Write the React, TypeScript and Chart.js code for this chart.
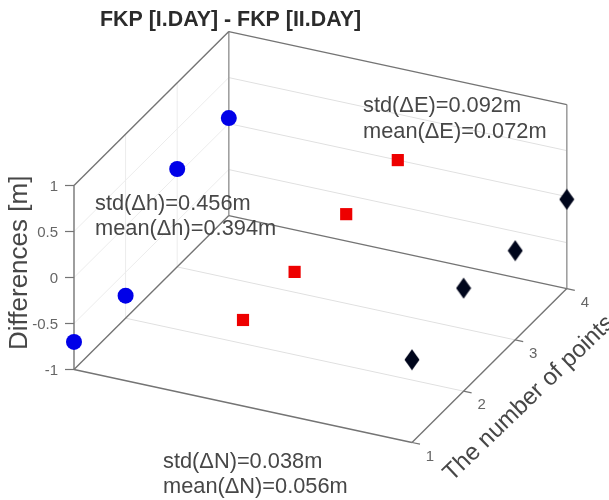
import React, { useEffect, useRef } from "react";
import { Chart, registerables } from "chart.js";

Chart.register(...registerables);

const titleText = "FKP [I.DAY] - FKP [II.DAY]";
const zLabel = "Differences [m]";
const yLabel = "The number of points";
const pointNumbers = [1, 2, 3, 4];
const zTicks = [-1, -0.5, 0, 0.5, 1];
const zTickLabels = ["-1", "-0.5", "0", "0.5", "1"];
const seriesH = [-0.7, -0.755, 0.064, 0.06];
const seriesE = [-0.065, -0.1, -0.03, 0.0];
const seriesN = [-0.1, 0.12, -0.03, -0.03];
const statsH = ["std(Δh)=0.456m", "mean(Δh)=0.394m"];
const statsE = ["std(ΔE)=0.092m", "mean(ΔE)=0.072m"];
const statsN = ["std(ΔN)=0.038m", "mean(ΔN)=0.056m"];

// 3D axes -> page pixels: x in 1..3, y in 1..4, z in -1..1
const ORIGIN = { x: 74, y: 369.5 };
const X_STEP = { x: 169, y: 36.5 };
const Y_STEP = { x: 51.6, y: -51.3 };
const Z_STEP = { x: 0, y: -92 };
const project = (x: number, y: number, z: number) => ({
  x: ORIGIN.x + (x - 1) * X_STEP.x + (y - 1) * Y_STEP.x + (z + 1) * Z_STEP.x,
  y: ORIGIN.y + (x - 1) * X_STEP.y + (y - 1) * Y_STEP.y + (z + 1) * Z_STEP.y,
});

const GRID = "#e0e0e0";
const GRID_LIGHT = "#ececec";
const EDGE = "#747474";
const EDGE_LIGHT = "#a0a0a0";
const TEXT = "#474747";
const TICK = "#666666";
const FONT = '"Liberation Sans", Arial, sans-serif';

const line = (pts: number[][], color: string, width: number) => ({
  type: "line" as const,
  data: pts.map(([x, y, z]) => project(x, y, z)),
  borderColor: color,
  borderWidth: width,
  pointRadius: 0,
  fill: false,
  tension: 0,
  showLine: true,
});

const diamond = () => {
  const c = document.createElement("canvas");
  c.width = 16;
  c.height = 22;
  const g = c.getContext("2d")!;
  g.fillStyle = "#00061c";
  g.beginPath();
  g.moveTo(8, 0.5);
  g.lineTo(15.5, 11);
  g.lineTo(8, 21.5);
  g.lineTo(0.5, 11);
  g.closePath();
  g.fill();
  return c;
};

const marks = (xPos: number, values: number[], extra: object) => ({
  type: "scatter" as const,
  data: values.map((v, i) => project(xPos, pointNumbers[i], v)),
  showLine: false,
  ...extra,
});

const textPlugin = {
  id: "labels3d",
  afterDatasetsDraw(chart: any) {
    const g = chart.ctx as CanvasRenderingContext2D;
    const sx = chart.scales.x;
    const sy = chart.scales.y;
    const put = (t: string, px: number, py: number, font: string, color: string, align: CanvasTextAlign = "left", rot = 0) => {
      g.save();
      g.translate(sx.getPixelForValue(px), sy.getPixelForValue(py));
      g.rotate(rot);
      g.font = font;
      g.fillStyle = color;
      g.textAlign = align;
      g.textBaseline = "alphabetic";
      g.fillText(t, 0, 0);
      g.restore();
    };
    put(titleText, 100, 26, `bold 21.4px ${FONT}`, "#2b2b2b");
    statsH.forEach((t, i) => put(t, 95, 210 + i * 25, `21.8px ${FONT}`, TEXT));
    statsE.forEach((t, i) => put(t, 363, 112 + i * 26, `21.8px ${FONT}`, TEXT));
    statsN.forEach((t, i) => put(t, 163, 468 + i * 25, `21.8px ${FONT}`, TEXT));
    zTicks.forEach((z, i) => {
      const p = project(1, 1, z);
      put(zTickLabels[i], p.x - 16, p.y + 5, `15px ${FONT}`, TICK, "right");
    });
    pointNumbers.forEach((n) => {
      const p = project(3, n, -1);
      put(String(n), p.x + 18, p.y + 18, `15px ${FONT}`, TICK, "center");
    });
    put(zLabel, 27, 350, `26px ${FONT}`, TEXT, "left", -Math.PI / 2);
    put(yLabel, 452, 482, `24px ${FONT}`, TEXT, "left", (-44 * Math.PI) / 180);
  },
};

export default function App() {
  const ref = useRef<HTMLCanvasElement>(null);
  useEffect(() => {
    const grids = [
      ...[-0.5, 0, 0.5].flatMap((z) => [
        line([[1, 1, z], [1, 4, z]], GRID_LIGHT, 1),
        line([[1, 4, z], [3, 4, z]], GRID, 1),
      ]),
      ...[2, 3].flatMap((y) => [
        line([[1, y, -1], [3, y, -1]], GRID, 1),
        line([[1, y, -1], [1, y, 1]], GRID_LIGHT, 1),
      ]),
    ];
    const edges = [
      line([[1, 1, -1], [3, 1, -1]], EDGE, 1.4),
      line([[3, 1, -1], [3, 4, -1]], EDGE, 1.4),
      line([[3, 4, -1], [1, 4, -1]], EDGE, 1.4),
      line([[1, 4, -1], [1, 1, -1]], EDGE, 1.4),
      line([[1, 1, -1], [1, 1, 1]], EDGE, 1.4),
      line([[1, 1, 1], [1, 4, 1]], EDGE, 1.4),
      line([[1, 4, 1], [3, 4, 1]], EDGE, 1.4),
      line([[1, 4, 1], [1, 4, -1]], EDGE_LIGHT, 1.6),
      line([[3, 4, 1], [3, 4, -1]], EDGE_LIGHT, 1.6),
    ];
    const ticks = [
      ...zTicks.map((z) => {
        const p = project(1, 1, z);
        return { type: "line" as const, data: [{ x: p.x - 9, y: p.y }, p], borderColor: EDGE, borderWidth: 1.2, pointRadius: 0 };
      }),
      ...pointNumbers.map((n) => {
        const p = project(3, n, -1);
        return { type: "line" as const, data: [p, { x: p.x + 8, y: p.y + 1.7 }], borderColor: EDGE, borderWidth: 1.2, pointRadius: 0 };
      }),
    ];
    const chart = new Chart(ref.current!, {
      type: "scatter",
      data: {
        datasets: [
          marks(1, seriesH, { pointStyle: "circle", pointRadius: 8, backgroundColor: "#0000e8", borderWidth: 0 }),
          marks(2, seriesE, { pointStyle: "rect", pointRadius: 8.6, backgroundColor: "#ee0000", borderWidth: 0 }),
          marks(3, seriesN, { pointStyle: diamond(), backgroundColor: "#00061c" }),
          ...ticks,
          ...edges,
          ...grids,
        ] as any,
      },
      options: {
        animation: false,
        responsive: false,
        layout: { padding: 0, autoPadding: false },
        scales: {
          x: { type: "linear", min: 0, max: 609, display: false },
          y: { type: "linear", min: 0, max: 500, reverse: true, display: false },
        },
        plugins: { legend: { display: false }, tooltip: { enabled: false }, title: { display: false } },
        datasets: { line: { clip: false }, scatter: { clip: false } },
      } as any,
      plugins: [textPlugin],
    });
    return () => chart.destroy();
  }, []);
  return (
    <canvas
      ref={ref}
      width={609}
      height={500}
      style={{ position: "fixed", left: 0, top: 0, width: 609, height: 500, filter: "blur(0.4px)" }}
    />
  );
}
